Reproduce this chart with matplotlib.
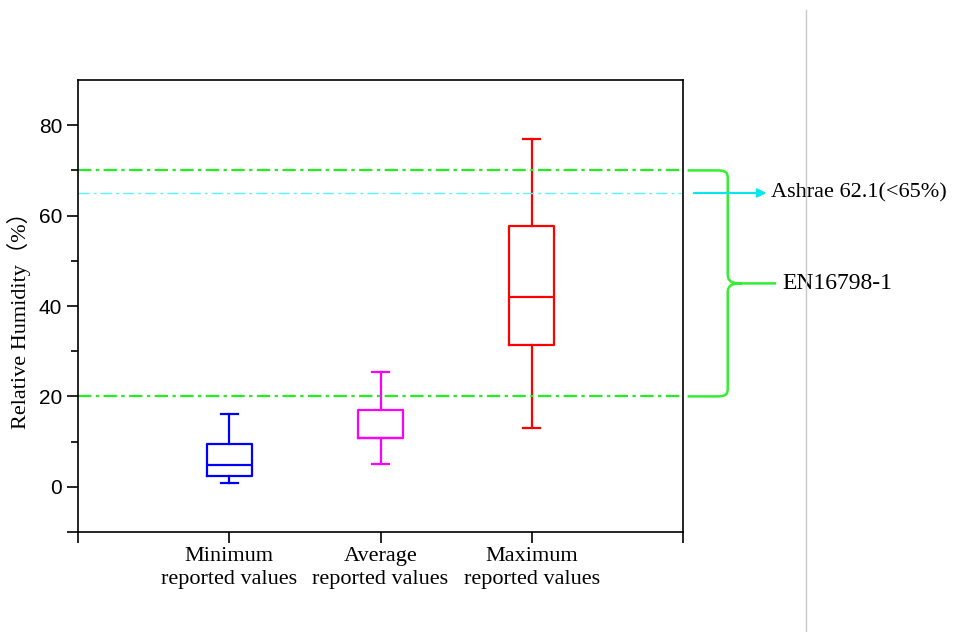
import matplotlib
matplotlib.use("Agg")
import matplotlib.pyplot as plt
from matplotlib.path import Path
from matplotlib.patches import PathPatch
from matplotlib.lines import Line2D

# box statistics
categories = ["Minimum\nreported values", "Average\nreported values", "Maximum\nreported values"]
whisker_low = [0.8, 5.0, 12.9]
q1 = [2.3, 10.9, 31.3]
median = [4.8, 10.9, 41.9]
q3 = [9.4, 17.0, 57.8]
whisker_high = [16.0, 25.3, 76.9]
box_colors = ["#0000ff", "#ff00ff", "#ff0000"]

en_low, en_high = 20, 70
ashrae = 65

serif = ["Liberation Serif", "Noto Sans CJK SC"]


def main():
    fig = plt.figure(figsize=(9.66, 6.32), dpi=100)
    ax = fig.add_axes([78 / 966, 100 / 632, 605 / 966, 452 / 632])

    for i in range(len(categories)):
        st = [dict(whislo=whisker_low[i], q1=q1[i], med=median[i], q3=q3[i],
                   whishi=whisker_high[i], fliers=[], label="")]
        c = box_colors[i]
        ax.bxp(st, positions=[i + 1], widths=0.3, showfliers=False,
               boxprops=dict(color=c, lw=1.6),
               medianprops=dict(color=c, lw=1.6),
               whiskerprops=dict(color=c, lw=1.6),
               capprops=dict(color=c, lw=1.6), capwidths=0.11)

    ax.set_xlim(0, 4)
    ax.set_ylim(-10, 90)

    # reference lines
    ax.plot([0, 3.99], [en_high, en_high], color="#22ee22", lw=1.6, ls=(0, (6, 2, 1.5, 2)))
    ax.plot([0, 3.99], [en_low, en_low], color="#22ee22", lw=1.6, ls=(0, (6, 2, 1.5, 2)))
    ax.plot([0, 3.99], [ashrae, ashrae], color="#55f5ff", lw=1.0, ls=(0, (8, 3, 2, 3)))

    # brace for EN16798-1
    verts = [(4.03, 70), (4.22, 70),
             (4.29, 70), (4.296, 69.5), (4.296, 68),
             (4.296, 47),
             (4.296, 45.3), (4.33, 45), (4.39, 45),
             (4.616, 45),
             (4.39, 45),
             (4.33, 45), (4.296, 44.7), (4.296, 43),
             (4.296, 22),
             (4.296, 20.5), (4.29, 20), (4.22, 20),
             (4.03, 20)]
    codes = [Path.MOVETO, Path.LINETO,
             Path.CURVE4, Path.CURVE4, Path.CURVE4,
             Path.LINETO,
             Path.CURVE4, Path.CURVE4, Path.CURVE4,
             Path.LINETO,
             Path.MOVETO,
             Path.CURVE4, Path.CURVE4, Path.CURVE4,
             Path.LINETO,
             Path.CURVE4, Path.CURVE4, Path.CURVE4,
             Path.LINETO]
    brace = PathPatch(Path(verts, codes), fill=False, edgecolor="#33ee33", lw=1.8, clip_on=False)
    ax.add_patch(brace)
    ax.text(4.66, 45, "EN16798-1", fontsize=17, family=serif, va="center", ha="left")

    ax.annotate("", xy=(4.57, ashrae), xytext=(4.053, ashrae), annotation_clip=False,
                arrowprops=dict(arrowstyle="-|>", color="#00e8f0", lw=1.5, mutation_scale=13))
    ax.text(4.585, ashrae, "Ashrae 62.1(<65%)", fontsize=16, family=serif,
            va="center", ha="left")

    # axes styling
    ax.set_xticks([0, 1, 2, 3, 4])
    ax.set_xticklabels([""] + categories + [""], fontsize=16, family=serif, linespacing=1.25)
    ax.set_yticks([-10, 0, 20, 40, 60, 80])
    ax.set_yticklabels(["", "0", "20", "40", "60", "80"], fontsize=15, family="Liberation Sans")
    ax.set_yticks([10, 30, 50, 70], minor=True)
    ax.tick_params(axis="both", which="major", direction="out", length=8, width=1.2)
    ax.tick_params(axis="y", which="minor", direction="out", length=5, width=1.2)
    ax.tick_params(axis="x", pad=3)
    for s in ax.spines.values():
        s.set_linewidth(1.2)
    ax.set_ylabel("Relative Humidity（%）", fontsize=16, family=serif)
    ax.yaxis.set_label_coords(-0.078, 0.48)

    # separator line on the right of the figure
    fig.add_artist(Line2D([806 / 966, 806 / 966], [0, 622 / 632], color="#c8c8c8", lw=1.0))

    fig.savefig("out.png", dpi=100)


if __name__ == "__main__":
    main()
